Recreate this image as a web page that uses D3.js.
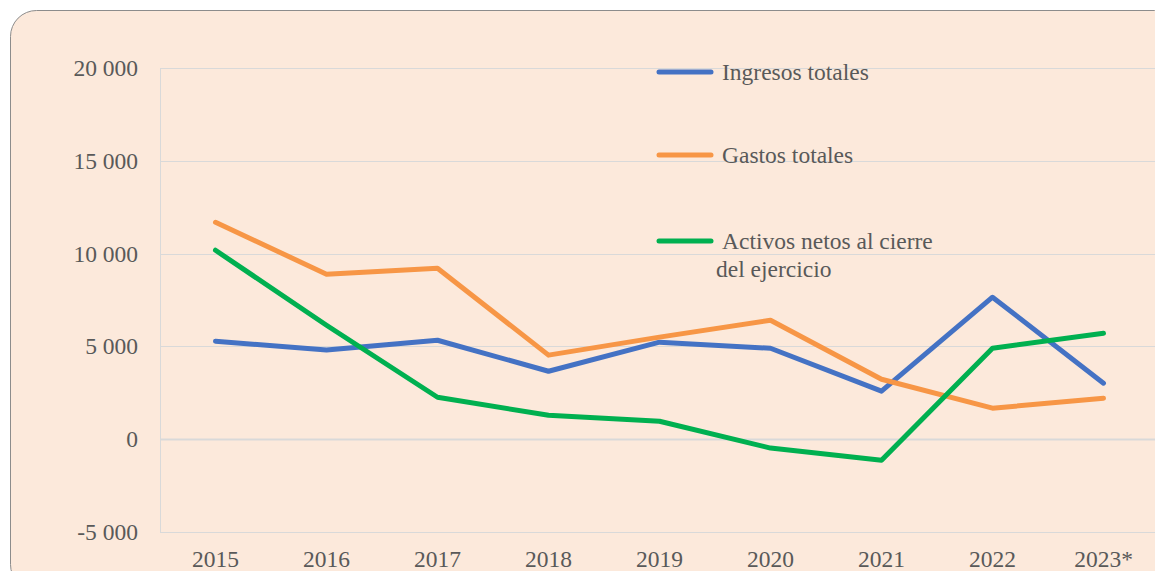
<!DOCTYPE html>
<html>
<head>
<meta charset="utf-8">
<script src="https://cdn.jsdelivr.net/npm/d3@7"></script>
<style>
  body { margin: 0; background: #fff; }
  svg { display: block; }
</style>
</head>
<body>
<div id="chart"></div>
<script>
/* Ingresos, gastos y activos netos por año */

const years = ["2015", "2016", "2017", "2018", "2019", "2020", "2021", "2022", "2023*"];
const ingresos = [5280, 4800, 5330, 3660, 5230, 4900, 2590, 7650, 3020];
const gastos   = [11690, 8890, 9210, 4530, 5500, 6410, 3230, 1670, 2210];
const activos  = [10180, 6140, 2260, 1290, 970, -480, -1130, 4900, 5710];
const yTicks = [-5000, 0, 5000, 10000, 15000, 20000];

const series = [
    {name: "Ingresos totales", values: ingresos, color: "#4472C4"},
    {name: "Gastos totales", values: gastos, color: "#F79646"},
    {name: "Activos netos al cierre|del ejercicio", values: activos, color: "#00B050"}
];

const width = 1155, height = 571;
const margin = {top: 68, right: -4, bottom: 39, left: 160};
const font = "'Liberation Serif', 'Times New Roman', serif";

const svg = d3.select("#chart")
    .append("svg")
    .attr("width", width)
    .attr("height", height);

// peach panel
svg.append("rect")
    .attr("x", 10.5).attr("y", 10.5)
    .attr("width", 1170).attr("height", 580)
    .attr("rx", 26).attr("ry", 26)
    .attr("fill", "#FCE9DB")
    .attr("stroke", "#8c8c8c")
    .attr("stroke-width", 1);

const x = d3.scaleBand()
    .domain(years)
    .range([margin.left, width - margin.right]);

const y = d3.scaleLinear()
    .domain([-5000, 20000])
    .range([height - margin.bottom, margin.top]);

const fmt = v => d3.format(",")(v).replace(/,/g, " ").replace("−", "-");

// grid lines
svg.append("g")
    .selectAll("line")
    .data(yTicks)
    .join("line")
    .attr("x1", margin.left)
    .attr("x2", width)
    .attr("y1", d => Math.round(y(d)) + 0.5)
    .attr("y2", d => Math.round(y(d)) + 0.5)
    .attr("stroke", "#d9d9d9")
    .attr("stroke-width", d => d === 0 ? 2 : 1);

svg.append("line")
    .attr("x1", margin.left + 0.5).attr("x2", margin.left + 0.5)
    .attr("y1", y(20000)).attr("y2", y(-5000))
    .attr("stroke", "#d9d9d9");

// y labels
svg.append("g")
    .selectAll("text")
    .data(yTicks)
    .join("text")
    .attr("x", 138)
    .attr("y", d => y(d) + 8)
    .attr("text-anchor", "end")
    .attr("font-family", font)
    .attr("font-size", 23.5)
    .attr("fill", "#595959")
    .text(d => fmt(d));

// x labels
svg.append("g")
    .selectAll("text")
    .data(years)
    .join("text")
    .attr("x", d => x(d) + x.bandwidth() / 2)
    .attr("y", 567)
    .attr("text-anchor", "middle")
    .attr("font-family", font)
    .attr("font-size", 23.5)
    .attr("fill", "#595959")
    .text(d => d);

const line = d3.line()
    .x((d, i) => x(years[i]) + x.bandwidth() / 2)
    .y(d => y(d));

svg.append("g")
    .selectAll("path")
    .data(series)
    .join("path")
    .attr("d", d => line(d.values))
    .attr("fill", "none")
    .attr("stroke", d => d.color)
    .attr("stroke-width", 5)
    .attr("stroke-linejoin", "round")
    .attr("stroke-linecap", "round");

// legend
const legendY = [72, 155, 241];
const leg = svg.append("g")
    .selectAll("g")
    .data(series)
    .join("g")
    .attr("transform", (d, i) => `translate(0, ${legendY[i]})`);

leg.append("line")
    .attr("x1", 659).attr("x2", 711)
    .attr("y1", 0).attr("y2", 0)
    .attr("stroke", d => d.color)
    .attr("stroke-width", 5)
    .attr("stroke-linecap", "round");

leg.append("text")
    .attr("font-family", font)
    .attr("font-size", 23.5)
    .attr("fill", "#595959")
    .each(function(d) {
        const parts = d.name.split("|");
        const t = d3.select(this);
        parts.forEach((p, j) => {
            t.append("tspan")
                .attr("x", j === 0 ? 722 : 716)
                .attr("y", j === 0 ? 8 : 36)
                .text(p);
        });
    });
</script>
</body>
</html>
